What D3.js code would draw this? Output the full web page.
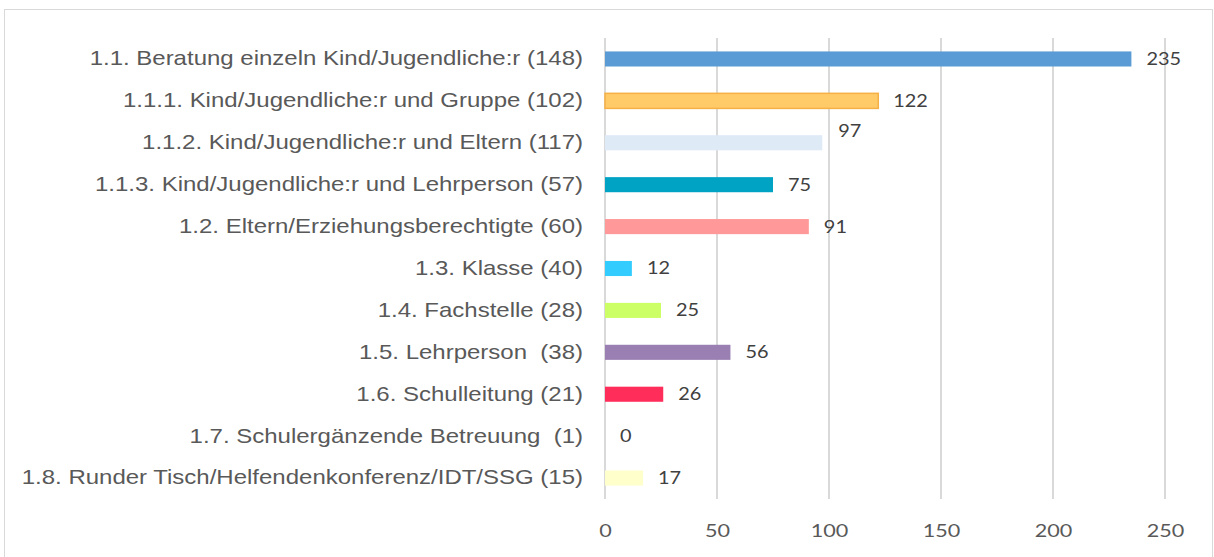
<!DOCTYPE html>
<html><head><meta charset="utf-8">
<script src="https://cdn.jsdelivr.net/npm/d3@7"></script>
<style>body{margin:0;background:#fff}svg{display:block}</style>
</head><body>
<svg id="c" width="1214" height="557"></svg>
<script>
const categories = [
  "1.1. Beratung einzeln Kind/Jugendliche:r (148)",
  "1.1.1. Kind/Jugendliche:r und Gruppe (102)",
  "1.1.2. Kind/Jugendliche:r und Eltern (117)",
  "1.1.3. Kind/Jugendliche:r und Lehrperson (57)",
  "1.2. Eltern/Erziehungsberechtigte (60)",
  "1.3. Klasse (40)",
  "1.4. Fachstelle (28)",
  "1.5. Lehrperson  (38)",
  "1.6. Schulleitung (21)",
  "1.7. Schulergänzende Betreuung  (1)",
  "1.8. Runder Tisch/Helfendenkonferenz/IDT/SSG (15)"
];
const values = [235, 122, 97, 75, 91, 12, 25, 56, 26, 0, 17];
const colors = ["#5B9BD5","#FFCA68","#DEEAF6","#00A3C4","#FF9999","#33CCFF","#CCFF66","#9A80B2","#FF2D5A","#FFFFFF","#FFFFCC"];
const xTicks = [0, 50, 100, 150, 200, 250];

const svg = d3.select("#c");
svg.append("rect").attr("x",4.5).attr("y",9.5).attr("width",1208).attr("height",560)
  .attr("fill","#fff").attr("stroke","#D9D9D9").attr("stroke-width",1);

const x = d3.scaleLinear().domain([0,250]).range([605,1165]);
const y = d3.scaleBand().domain(categories).range([38,499]).paddingInner(0.64).paddingOuter(0.32);

// gridlines
svg.append("g").selectAll("line").data(xTicks).join("line")
  .attr("x1",d=>x(d)).attr("x2",d=>x(d)).attr("y1",38).attr("y2",499)
  .attr("stroke","#D9D9D9").attr("stroke-width",2);

// axis labels
const ax = svg.append("g").attr("transform","translate(0,499)")
  .call(d3.axisBottom(x).tickValues(xTicks).tickSize(0).tickPadding(25));
ax.select(".domain").remove();
ax.selectAll("text").attr("fill","#595959").attr("transform","scale(1.2,1)")
  .style("font-family","Lato, 'Open Sans', sans-serif").style("font-size","18px");

// category labels
const ay = svg.append("g").attr("transform","translate(583,0)")
  .call(d3.axisLeft(y).tickSize(0).tickPadding(0));
ay.select(".domain").remove();
ay.selectAll("text").attr("fill","#595959").attr("transform","scale(1.2,1)")
  .style("white-space","pre")
  .style("font-family","'Liberation Sans', Arial, sans-serif").style("font-size","20px");

// bars
svg.append("g").selectAll("rect").data(values).join("rect")
  .attr("x",x(0)).attr("y",(d,i)=>y(categories[i]))
  .attr("width",d=>x(d)-x(0)).attr("height",y.bandwidth())
  .attr("fill",(d,i)=>colors[i])
  .attr("stroke",(d,i)=>i===1?"#F5B046":"none").attr("stroke-width",1.5);

// value labels
svg.append("g").selectAll("text").data(values).join("text")
  .attr("transform",(d,i)=>`translate(${x(d)+(i===2?16:15)},${y(categories[i])+y.bandwidth()/2+(i===2?-12:0)}) scale(1.17,1)`)
  .attr("dy","0.35em")
  .attr("fill","#404040").style("font-family","Lato, 'Open Sans', sans-serif").style("font-size","17px")
  .text(d=>d);
</script>
</body></html>
